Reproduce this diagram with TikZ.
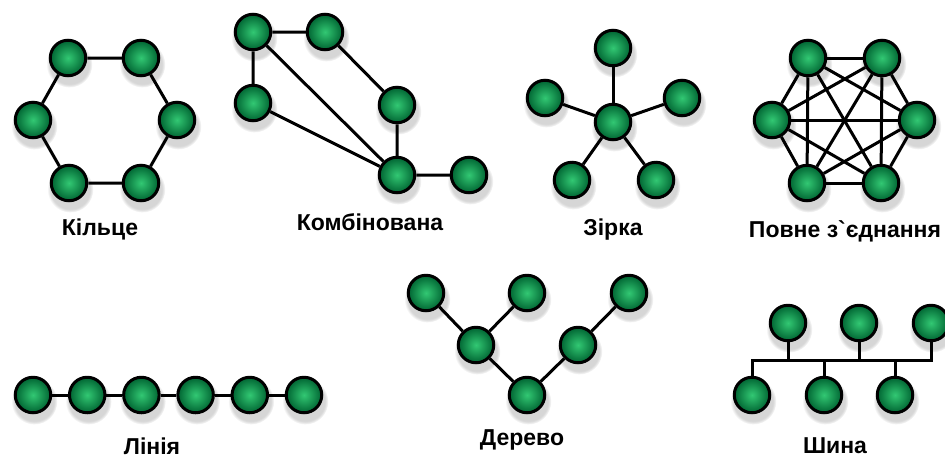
\documentclass[tikz,border=0pt]{standalone}
\usepackage{fontspec}
\setmainfont{Liberation Sans}
\usetikzlibrary{positioning,shadows}
\definecolor{ballhi}{RGB}{50,200,115}
\definecolor{balldark}{RGB}{0,100,50}

\begin{document}
\begin{tikzpicture}[x=1pt, y=-1pt, node distance=54.2pt, font=\fontsize{23}{26}\selectfont\bfseries,
  pc/.style={circle,draw=black,line width=3pt,minimum size=35.5pt,inner sep=0pt,inner color=ballhi,outer color=balldark,
    circular drop shadow={shadow xshift=1pt,shadow yshift=-5pt,shadow scale=1.3,fill=black,opacity=.16}},
  link/.style={line width=3pt},
  lbl/.style={anchor=base}]
\useasboundingbox (0,0) rectangle (945,459);

% ring
\node(r1)[pc] at (68,58){};
\node(r2)[pc] at (141,58){};
\node(r3)[pc] at (177,120){};
\node(r4)[pc] at (141,183){};
\node(r5)[pc] at (69,183){};
\node(r6)[pc] at (33,120){};
\draw[link] (r1)--(r2)--(r3)--(r4)--(r5)--(r6)--(r1);
\node(ringlbl)[lbl] at (100,235){Кільце};

% combined
\node(c1)[pc] at (253,32){};
\node(c2)[pc] at (325,32){};
\node(c3)[pc] at (253,103){};
\node(c4)[pc] at (397,105){};
\node(c5)[pc] at (397,175){};
\node(c6)[pc] at (469,175){};
\draw[link] (c3)--(c1)--(c2)--(c4)--(c5)--(c6);
\draw[link] (c1)--(c5);
\draw[link] (c3)--(c5);
\node(comblbl)[lbl] at (370,230){Комбінована};

% star
\node(s0)[pc] at (613,122){};
\node(s1)[pc] at (613,48){};
\node(s2)[pc] at (682,98){};
\node(s3)[pc] at (656,180){};
\node(s4)[pc] at (572,180){};
\node(s5)[pc] at (545,98){};
\foreach \i in {1,...,5} \draw[link] (s0)--(s\i);
\node(starlbl)[lbl] at (613,235){Зірка};

% full mesh
\node(m1)[pc] at (808,58){};
\node(m2)[pc] at (882,58){};
\node(m3)[pc] at (917,120){};
\node(m4)[pc] at (881,183){};
\node(m5)[pc] at (807,183){};
\node(m6)[pc] at (772,120){};
\foreach \i in {1,...,5}{
  \pgfmathtruncatemacro\j{\i+1}
  \foreach \k in {\j,...,6} \draw[link] (m\i)--(m\k);
}
\node(meshlbl)[lbl] at (845,237){Повне з\textasciigrave єднання};

% line
\node(l1)[pc] at (33,395){};
\node(l2)[pc,right of=l1]{};
\node(l3)[pc,right of=l2]{};
\node(l4)[pc,right of=l3]{};
\node(l5)[pc,right of=l4]{};
\node(l6)[pc,right of=l5]{};
\draw[link] (l1)--(l2)--(l3)--(l4)--(l5)--(l6);
\node(linelbl)[lbl] at (152,454){Лінія};

% tree
\node(t1)[pc] at (426,293){};
\node(t2)[pc] at (527,293){};
\node(t3)[pc] at (629,293){};
\node(t4)[pc] at (476,345){};
\node(t5)[pc] at (578,345){};
\node(t6)[pc] at (527,395){};
\draw[link] (t1)--(t4)--(t2);
\draw[link] (t4)--(t6)--(t5)--(t3);
\node(treelbl)[lbl] at (522,445){Дерево};

% bus
\node(b1)[pc] at (788,323){};
\node(b2)[pc] at (859,323){};
\node(b3)[pc] at (931,323){};
\node(b4)[pc] at (752,395){};
\node(b5)[pc] at (824,395){};
\node(b6)[pc] at (895,395){};
\coordinate(busL) at (752,360);
\coordinate(busR) at (931,360);
\draw[link] (b4)--(busL)--(busR)--(b3);
\foreach \n in {b1,b2,b5,b6} \draw[link] (\n)--(\n|-busL);
\node(buslbl)[lbl] at (835,453){Шина};

\end{tikzpicture}
\end{document}
